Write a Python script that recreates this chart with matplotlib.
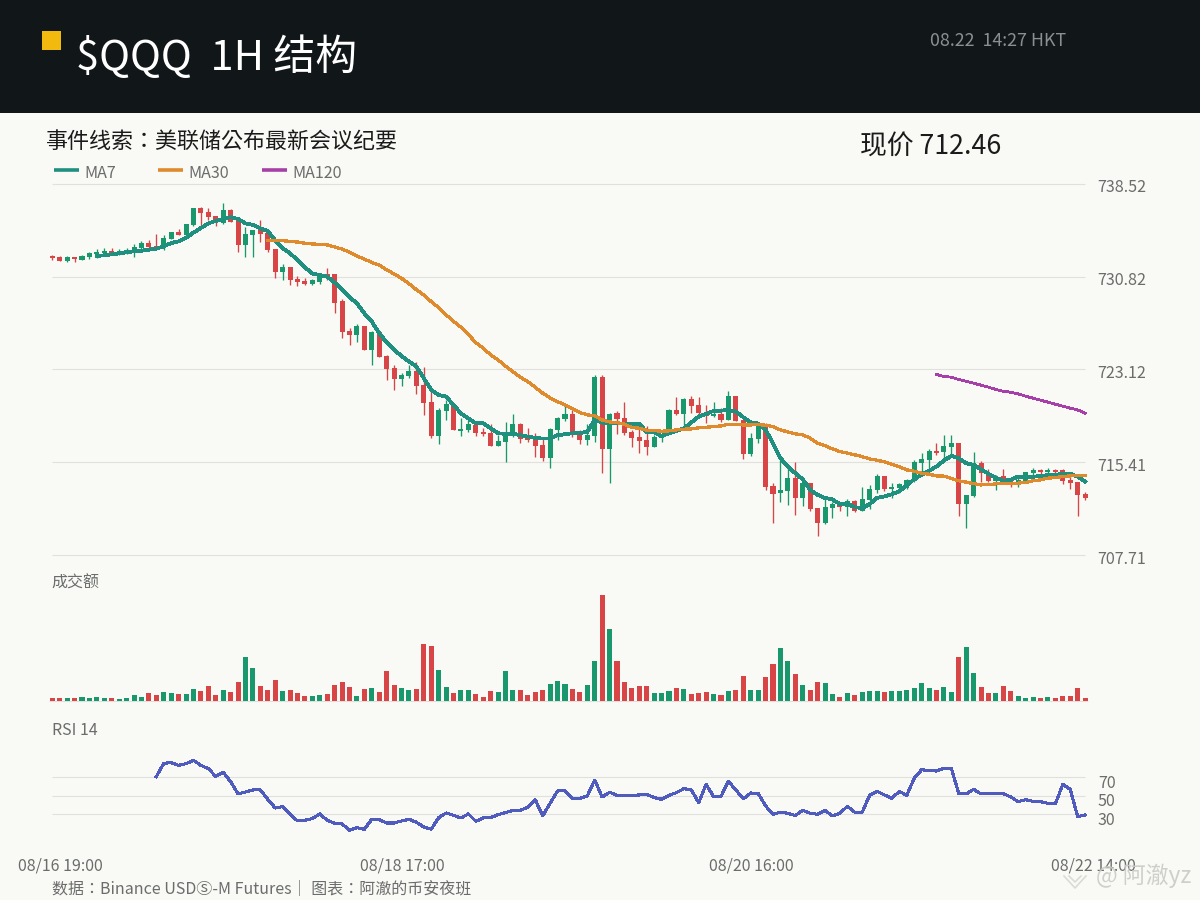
import matplotlib
matplotlib.use("Agg")
import matplotlib.pyplot as plt
from matplotlib.patches import Rectangle
from matplotlib.lines import Line2D

plt.rcParams['font.family'] = ['Noto Sans CJK TC', 'DejaVu Sans']

highs = [732.62,732.51,732.51,732.46,732.62,732.87,733.12,733.21,733.21,733.12,
733.21,733.54,733.79,733.87,734.37,734.28,734.53,734.78,735.20,736.53,
736.61,736.53,735.86,736.94,736.44,735.45,734.95,734.70,735.53,734.45,
733.12,731.88,731.63,730.88,730.72,730.63,731.13,731.55,731.05,728.97,
726.57,726.90,726.73,726.32,726.23,724.32,723.49,722.83,723.49,723.74,
723.33,721.42,719.92,720.59,720.17,719.09,718.93,718.60,718.26,718.60,
717.68,718.76,719.43,718.68,718.26,717.85,717.52,718.26,719.18,720.09,
719.76,718.10,718.60,722.66,722.66,719.51,719.68,720.42,718.10,718.18,
718.43,717.68,717.77,719.84,720.84,720.76,720.92,720.84,720.17,720.42,
719.93,721.34,720.92,718.93,717.85,718.60,718.68,713.70,715.61,714.95,
715.44,714.11,713.70,711.62,712.37,712.12,712.12,712.37,712.29,713.37,
713.53,714.45,714.28,713.70,713.70,714.03,715.61,716.19,716.52,717.02,
717.68,717.68,717.02,712.70,716.27,715.53,714.86,714.37,714.86,714.12,
714.37,714.61,714.95,714.86,714.95,714.86,714.86,714.37,713.78,712.95]

lows = [732.21,732.13,732.04,732.04,732.21,732.29,732.38,732.54,732.62,732.62,
732.71,732.46,732.96,733.12,733.04,733.04,733.95,734.28,734.20,735.03,
734.95,735.53,735.03,735.20,735.36,732.87,732.46,732.46,733.70,732.87,
730.72,730.55,730.13,730.05,730.13,730.13,730.22,730.55,727.81,725.74,
725.15,725.40,724.74,723.49,724.16,722.25,721.42,721.75,722.41,721.09,
719.34,717.43,716.94,718.93,718.10,717.60,717.93,717.60,717.60,716.77,
716.77,715.44,717.52,717.02,717.10,715.86,715.53,714.94,717.27,718.85,
717.52,716.94,716.85,717.10,714.53,713.70,717.77,717.68,716.69,716.19,
716.02,716.69,717.10,717.77,719.34,718.51,719.51,719.34,718.68,719.18,
718.76,718.93,718.85,715.69,715.94,717.02,713.12,710.38,712.12,711.87,
711.04,711.79,711.38,709.30,710.30,710.79,711.38,710.96,711.29,711.38,
711.54,712.87,713.04,712.46,712.87,713.20,713.78,714.45,714.45,716.02,
715.53,716.02,710.96,709.96,712.54,713.78,713.78,713.12,713.62,713.37,
713.37,713.87,714.37,714.45,714.28,714.53,713.62,713.20,710.96,712.29]

opens = [732.54,732.43,732.13,732.43,732.21,732.46,732.71,732.79,732.96,732.71,
732.79,732.87,733.21,733.62,733.37,733.29,733.95,734.53,734.28,735.12,
736.53,736.19,735.86,735.28,736.36,735.45,733.45,734.28,734.70,734.45,
733.12,731.21,731.63,730.63,730.47,730.22,730.38,731.05,731.05,728.81,
726.32,725.98,726.73,724.74,726.23,724.24,723.25,722.33,722.58,723.00,
721.83,720.42,717.60,719.68,720.09,718.02,718.10,718.51,717.93,717.85,
716.77,717.10,717.77,718.60,717.43,717.35,716.85,715.77,718.10,719.01,
719.43,717.77,717.27,717.60,722.50,716.52,719.51,719.10,717.93,717.52,
717.27,716.69,717.44,717.77,719.76,719.43,720.67,720.17,719.59,719.26,
719.43,718.93,720.92,718.93,716.11,717.35,718.43,713.45,712.87,713.04,
714.11,712.45,713.70,711.62,710.38,711.62,711.96,711.71,712.21,711.38,
712.29,713.12,714.28,713.20,713.29,713.29,713.87,715.36,715.61,716.36,
716.27,716.69,717.02,711.96,712.62,715.36,714.53,713.87,714.28,714.03,
713.70,713.87,714.53,714.78,714.61,714.78,714.78,713.95,713.78,712.79]

closes = [732.35,732.13,732.43,732.29,732.54,732.79,732.87,732.96,732.79,732.96,
733.04,733.29,733.62,733.29,733.21,734.04,734.53,734.28,735.20,736.53,
736.11,735.78,735.36,736.36,735.36,733.45,734.37,734.70,734.37,733.04,
731.21,731.63,730.55,730.38,730.22,730.55,731.13,730.88,728.64,726.23,
725.98,726.73,724.74,726.23,724.16,723.16,722.33,722.66,723.00,721.75,
720.34,717.60,719.76,720.26,718.10,718.18,718.60,717.85,717.77,716.77,
717.18,717.85,718.60,717.35,717.27,716.77,715.77,718.18,719.09,719.43,
717.85,717.27,717.68,722.50,716.52,719.43,719.01,717.85,717.44,717.19,
716.69,717.52,717.68,719.76,719.43,720.67,720.09,719.51,719.26,719.43,
718.93,720.92,718.85,716.11,717.44,718.43,713.37,712.79,713.12,714.11,
712.45,713.70,711.54,710.38,711.71,711.96,711.71,712.21,711.38,712.37,
713.20,714.28,713.20,713.37,713.62,713.95,715.44,715.69,716.36,716.19,
716.77,717.02,711.96,712.70,715.36,714.53,713.87,714.28,714.03,713.62,
713.95,714.61,714.78,714.61,714.78,714.61,713.87,713.70,712.70,712.46]

ma7_start = 6
ma7 = [732.54,732.60,732.68,732.76,732.85,732.93,732.98,733.07,733.15,733.34,
733.62,733.76,734.04,734.48,734.87,735.25,735.45,735.61,735.78,735.61,
735.25,735.12,734.84,734.62,733.84,733.18,732.76,732.21,731.60,
731.08,730.96,730.83,730.33,729.72,729.11,728.61,727.78,727.09,726.12,
725.38,724.74,724.24,723.77,723.36,722.39,721.42,721.00,720.86,720.17,
719.48,719.04,718.65,718.65,718.24,717.82,717.77,717.77,717.66,717.54,
717.43,717.38,717.38,717.66,717.74,
717.82,717.85,717.93,718.93,718.71,718.65,718.65,718.62,718.62,718.60,
717.93,717.88,717.60,717.82,718.02,718.24,718.71,719.21,719.43,719.68,
719.70,719.76,719.62,719.15,718.74,718.62,718.10,716.99,715.75,715.06,
714.50,714.00,713.12,712.70,712.45,
712.32,711.93,711.96,711.68,711.62,711.93,712.46,712.57,712.76,713.01,
713.51,714.00,714.37,714.70,715.06,715.55,715.94,715.75,715.33,715.19,
714.83,714.45,714.12,713.87,713.95,714.23,714.14,714.20,714.28,714.34,
714.37,714.45,714.45,714.23,713.81]

ma30_start = 29
ma30 = [733.85,733.84,733.81,733.76,733.70,733.60,733.54,733.51,733.46,733.29,
733.12,732.87,732.54,732.29,732.00,731.79,731.40,731.05,730.69,730.24,
729.74,729.30,728.75,728.25,727.65,727.12,726.62,726.01,725.35,724.88,
724.33,723.91,723.39,722.94,722.47,722.11,721.64,721.15,720.76,720.45,
720.17,719.84,719.54,719.35,719.26,718.93,718.76,718.71,718.57,718.29,
718.24,718.07,718.04,717.99,718.02,718.10,718.16,718.18,718.27,718.32,
718.37,718.43,718.57,718.57,718.51,718.51,718.54,718.49,718.37,718.10,
717.93,717.77,717.69,717.41,717.00,716.80,716.52,716.30,716.17,716.03,
715.88,715.69,715.58,715.44,715.25,715.03,714.78,714.67,714.50,714.42,
714.28,714.26,714.06,713.87,713.76,713.64,713.53,713.56,713.62,713.62,
713.64,713.68,713.73,713.87,713.95,714.09,714.14,714.22,714.28,714.34,714.34]

ma120_start = 119
ma120 = [722.70,722.53,722.48,722.28,722.14,721.98,721.81,721.65,721.45,721.31,
721.23,721.09,720.90,720.73,720.57,720.40,720.23,720.07,719.90,719.76,719.49]

volumes = [9,9,9,9,12,9,12,9,9,6,9,18,12,24,18,27,24,21,21,36,
30,45,18,33,27,57,132,99,45,33,63,30,33,24,15,15,18,21,48,57,
42,15,36,39,27,90,48,39,33,36,171,165,93,42,24,33,33,21,12,30,
27,90,33,33,18,27,33,51,60,51,36,27,48,120,318,216,120,57,39,45,
45,24,24,30,39,36,21,24,27,21,18,30,33,75,33,33,72,111,159,120,
81,48,33,57,54,21,12,24,18,27,30,30,27,30,30,33,39,54,39,33,
42,27,132,162,84,42,24,24,45,30,15,9,12,9,12,9,15,15,39,9]

rsi_start = 14
rsi = [70.7,85.1,85.8,82.9,84.7,88.3,82.9,79.3,71.0,75.4,65.3,52.0,54.1,56.3,56.3,
46.2,36.8,38.3,30.4,22.8,23.5,25.3,30.4,23.5,20.3,19.6,12.7,15.6,13.8,24.6,
24.2,20.6,20.6,22.8,24.6,21.4,16.3,13.8,26.4,31.4,28.9,26.0,30.4,22.4,26.0,
26.4,29.6,31.8,34.3,34.3,37.6,45.8,28.2,41.9,55.2,55.6,47.3,47.3,49.8,67.1,
48.7,53.8,50.5,50.5,50.5,50.9,51.6,48.0,46.2,50.5,53.4,57.7,56.3,42.6,62.4,
49.1,49.4,65.6,56.3,46.6,53.0,52.7,39.0,30.0,32.2,31.1,28.6,34.3,31.1,30.0,
34.3,28.2,31.1,38.6,32.2,32.2,50.5,54.8,50.9,47.3,54.8,50.5,68.9,78.2,77.2,
76.8,79.7,79.7,52.3,52.0,57.0,52.0,52.7,52.7,52.3,48.7,43.7,45.8,44.0,43.7,
41.9,41.2,62.4,57.0,27.5,29.3]

price_ticks = [738.52, 730.82, 723.12, 715.41, 707.71]
rsi_ticks = [70, 50, 30]
date_idx = [0, 46, 93, 139]
date_labels = ['08/16 19:00', '08/18 17:00', '08/20 16:00', '08/22 14:00']

BG = '#F9FAF5'
DARK = '#111618'
GREEN = '#18986C'
RED = '#D84546'
TEAL = '#1F8F80'
ORANGE = '#E08A2E'
PURPLE = '#A640A8'
INDIGO = '#4F5BBD'
GRID = '#E0E1DC'
GREY = '#6A6D6C'

W, H = 1200, 900
fig = plt.figure(figsize=(12, 9), dpi=100, facecolor=BG)


def px_axes(x0, y0, x1, y1):
    a = fig.add_axes([x0 / W, 1 - y1 / H, (x1 - x0) / W, (y1 - y0) / H])
    a.patch.set_alpha(0)
    for s in a.spines.values():
        s.set_visible(False)
    a.set_xticks([])
    a.set_yticks([])
    a.set_xlim(-1.117, 140.2)
    return a


def ftext(x, y, s, **kw):
    kw.setdefault('va', 'center')
    return fig.text(x / W, 1 - y / H, s, **kw)


# header
fig.add_artist(Rectangle((0, 1 - 113 / H), 1, 113 / H, transform=fig.transFigure, color=DARK, lw=0))
fig.add_artist(Rectangle((42 / W, 1 - 50 / H), 19 / W, 19 / H, transform=fig.transFigure, color='#F2B90F', lw=0))
ftext(76, 57, '$QQQ  1H 结构', color='white', fontsize=30.1)
ftext(930, 41, '08.22  14:27 HKT', color='#8A8F90', fontsize=12.85)
ftext(46, 142, '事件线索：美联储公布最新会议纪要', color='#1a1a1a', fontsize=15.85)
ftext(860.5, 146.5, '现价 712.46', color='#1a1a1a', fontsize=19.3)

# legend
for x0, c, name in [(54, TEAL, 'MA7'), (158, ORANGE, 'MA30'), (262, PURPLE, 'MA120')]:
    fig.add_artist(Line2D([x0 / W, (x0 + 25) / W], [1 - 170 / H] * 2, color=c, lw=2.6,
                          transform=fig.transFigure, solid_capstyle='butt'))
    ftext(x0 + 30.5, 173, name, color=GREY, fontsize=11.6)

# price panel
ax = px_axes(44, 184, 1094, 555)
ax.set_ylim(707.71, 738.52)
ax.hlines(price_ticks, 0, 139, color=GRID, lw=0.8, zorder=1, clip_on=False)
n = len(opens)
xs = list(range(n))
cols = [GREEN if c >= o else RED for o, c in zip(opens, closes)]
ax.vlines(xs, lows, highs, colors=cols, lw=0.95, zorder=2)
ax.bar(xs, [abs(c - o) for o, c in zip(opens, closes)],
       bottom=[min(o, c) for o, c in zip(opens, closes)],
       width=0.68, color=cols, lw=0, zorder=3)
ax.plot(range(ma7_start, ma7_start + len(ma7)), ma7, color=TEAL, lw=2.0, zorder=4, antialiased=False)
ax.plot(range(ma30_start, ma30_start + len(ma30)), ma30, color=ORANGE, lw=1.6, zorder=5, antialiased=False)
ax.plot(range(ma120_start, ma120_start + len(ma120)), ma120, color=PURPLE, lw=1.3, zorder=5, antialiased=False)
for v in price_ticks:
    ax.annotate(f'{v:.2f}', xy=(1, v), xycoords=('axes fraction', 'data'), xytext=(3, -4),
                textcoords='offset pixels', color=GREY, fontsize=11.6, va='center', ha='left',
                annotation_clip=False)

# volume panel
vx = px_axes(44, 590, 1094, 700.7)
vx.set_ylim(0, 332)
vx.bar(xs, volumes, width=0.68, color=cols, lw=0, zorder=3)
vx.hlines([0], -0.4, 139.4, color=GRID, lw=0.8, zorder=1, clip_on=False)
ftext(51.5, 583, '成交额', color=GREY, fontsize=11.5)

# RSI panel
rx = px_axes(44, 750, 1094, 840)
rx.set_ylim(2.2, 99.5)
rx.hlines(rsi_ticks, 0, 139, color=GRID, lw=0.8, zorder=1)
rx.plot(range(rsi_start, rsi_start + len(rsi)), rsi, color=INDIGO, lw=1.5, zorder=3, antialiased=False)
ftext(52, 730.5, 'RSI 14', color=GREY, fontsize=11.5)
for v in rsi_ticks:
    rx.annotate(str(v), xy=(1, v), xycoords=('axes fraction', 'data'), xytext=(4, -6),
                textcoords='offset pixels', color=GREY, fontsize=11.5, va='center', ha='left',
                annotation_clip=False)
for i, lab in zip(date_idx, date_labels):
    rx.annotate(lab, xy=(i, 0), xycoords=('data', 'axes fraction'), xytext=(8, -26),
                textcoords='offset pixels', color=GREY, fontsize=11.5, va='center', ha='center',
                annotation_clip=False)

# footer
ftext(52, 889, '数据：Binance USDⓈ-M Futures｜ 图表：阿澈的币安夜班', color=GREY, fontsize=11.5)

# watermark
ftext(1096, 876, '@ 阿澈yz', color='#C9CBC8', fontsize=16.5, alpha=0.9)
for pts in ([(1064, 876), (1075, 888), (1086, 876)], [(1069, 876), (1075, 882), (1081, 876)]):
    fig.add_artist(Line2D([p[0] / W for p in pts], [1 - p[1] / H for p in pts], color='#DADBD8',
                          lw=1.2, transform=fig.transFigure))

fig.savefig('out.png', dpi=100, facecolor=BG)
